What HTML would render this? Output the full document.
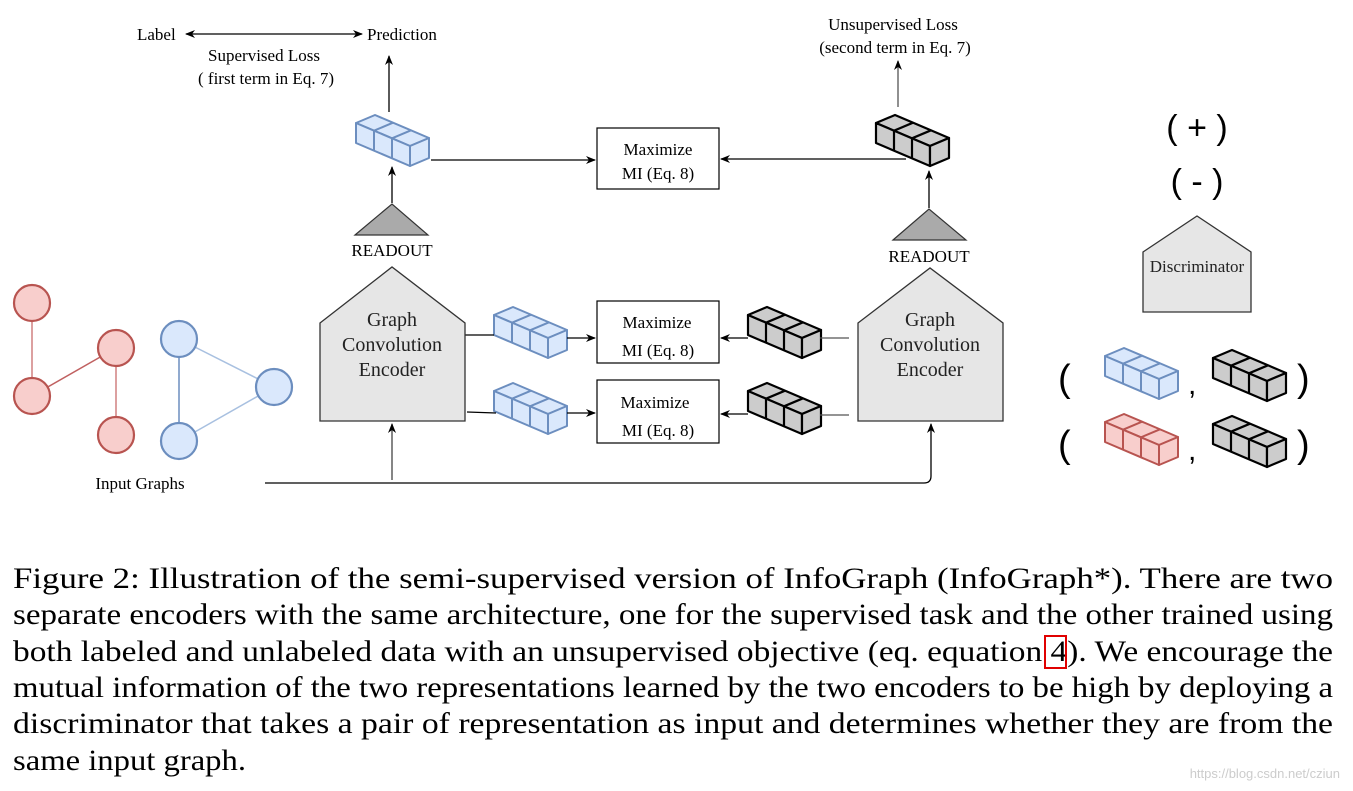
<!DOCTYPE html>
<html><head><meta charset="utf-8"><style>
html,body{margin:0;padding:0;background:#fff;}
svg{display:block;}
text{font-family:"Liberation Serif",serif;}
text.s{font-family:"Liberation Sans",sans-serif;}
</style></head><body>
<svg width="1353" height="791" viewBox="0 0 1353 791" xmlns="http://www.w3.org/2000/svg">
<defs>
<marker id="ah" markerWidth="10" markerHeight="10" refX="9" refY="5" orient="auto" markerUnits="userSpaceOnUse">
<path d="M0,1 L10,5 L0,9 L3,5 z" fill="#000"/>
</marker>
<marker id="ahs" markerWidth="10" markerHeight="10" refX="1" refY="5" orient="auto" markerUnits="userSpaceOnUse">
<path d="M10,1 L0,5 L10,9 L7,5 z" fill="#000"/>
</marker>
<g id="stk">
<polygon points="0,8 19,0 73,23 54,31"/>
<polygon points="0,8 54,31 54,51 0,28"/>
<polygon points="54,31 73,23 73,43 54,51"/>
<line x1="18" y1="15.7" x2="18" y2="35.7"/>
<line x1="36" y1="23.3" x2="36" y2="43.3"/>
<line x1="18" y1="15.7" x2="37" y2="7.7"/>
<line x1="36" y1="23.3" x2="55" y2="15.3"/>
</g>
</defs>

<text x="137" y="40" font-size="17">Label</text>
<text x="367" y="40" font-size="17">Prediction</text>
<line x1="186" y1="34" x2="362" y2="34" stroke="#000" stroke-width="1.3" marker-end="url(#ah)" marker-start="url(#ahs)"/>
<text x="264" y="61" font-size="17" text-anchor="middle">Supervised Loss</text>
<text x="266" y="84" font-size="17" text-anchor="middle">( first term in Eq. 7)</text>
<line x1="389" y1="112" x2="389" y2="56" stroke="#000" stroke-width="1.3" marker-end="url(#ah)"/>

<text x="893" y="30" font-size="17" text-anchor="middle">Unsupervised Loss</text>
<text x="895" y="53" font-size="17" text-anchor="middle">(second term in Eq. 7)</text>
<line x1="898" y1="107" x2="898" y2="61" stroke="#555" stroke-width="1.3" marker-end="url(#ah)"/>

<g fill="#dae8fc" stroke="#6c8ebf" stroke-width="2" stroke-linejoin="round">
<use href="#stk" x="356" y="115"/>
<use href="#stk" x="494" y="307"/>
<use href="#stk" x="494" y="383"/>
<use href="#stk" x="1105" y="348"/>
</g>
<g fill="#f8cecc" stroke="#b85450" stroke-width="2" stroke-linejoin="round">
<use href="#stk" x="1105" y="414"/>
</g>
<g fill="#cccccc" stroke="#000" stroke-width="2.2" stroke-linejoin="round">
<use href="#stk" x="876" y="115"/>
<use href="#stk" x="748" y="307"/>
<use href="#stk" x="748" y="383"/>
<use href="#stk" x="1213" y="350"/>
<use href="#stk" x="1213" y="416"/>
</g>

<g fill="#fff" stroke="#000" stroke-width="1.2">
<rect x="597" y="128" width="122" height="61"/>
<rect x="597" y="301" width="122" height="62"/>
<rect x="597" y="380" width="122" height="63"/>
</g>
<g font-size="17" text-anchor="middle">
<text x="658" y="155">Maximize</text><text x="658" y="179">MI (Eq. 8)</text>
<text x="657" y="328">Maximize</text><text x="658" y="356">MI (Eq. 8)</text>
<text x="655" y="408">Maximize</text><text x="658" y="436">MI (Eq. 8)</text>
</g>

<g stroke="#000" stroke-width="1.3" fill="none">
<line x1="431" y1="160" x2="595" y2="160" marker-end="url(#ah)"/>
<line x1="906" y1="159" x2="721" y2="159" marker-end="url(#ah)"/>
<line x1="465" y1="335" x2="494" y2="335"/>
<line x1="567" y1="338" x2="595" y2="338" marker-end="url(#ah)"/>
<line x1="467" y1="412" x2="496" y2="413"/>
<line x1="567" y1="413" x2="595" y2="413" marker-end="url(#ah)"/>
<line x1="748" y1="338" x2="721" y2="338" marker-end="url(#ah)"/>
<line x1="748" y1="414" x2="721" y2="414" marker-end="url(#ah)"/>
<line x1="849" y1="338" x2="820" y2="338" stroke="#555"/>
<line x1="849" y1="415" x2="820" y2="415" stroke="#555"/>
<line x1="392" y1="203" x2="392" y2="167" marker-end="url(#ah)"/>
<line x1="929" y1="208" x2="929" y2="171" marker-end="url(#ah)"/>
<line x1="392" y1="480" x2="392" y2="424" stroke="#444" marker-end="url(#ah)"/>
<path d="M265,483 L924,483 Q931,483 931,476 L931,424" marker-end="url(#ah)"/>
</g>

<polygon points="355,235 392,204 428,235" fill="#aaaaaa" stroke="#333" stroke-width="1.2"/>
<polygon points="893,240 929,209 966,240" fill="#aaaaaa" stroke="#333" stroke-width="1.2"/>
<text x="392" y="256" font-size="17" text-anchor="middle">READOUT</text>
<text x="929" y="262" font-size="17" text-anchor="middle">READOUT</text>

<polygon points="320,323 392,267 465,323 465,421 320,421" fill="#e6e6e6" stroke="#333" stroke-width="1.3"/>
<polygon points="858,323 930,268 1003,323 1003,421 858,421" fill="#e6e6e6" stroke="#333" stroke-width="1.3"/>
<g font-size="20" text-anchor="middle" fill="#222">
<text x="392" y="326">Graph</text><text x="392" y="351">Convolution</text><text x="392" y="376">Encoder</text>
<text x="930" y="326">Graph</text><text x="930" y="351">Convolution</text><text x="930" y="376">Encoder</text>
</g>

<polygon points="1143,252 1197,216 1251,252 1251,312 1143,312" fill="#e6e6e6" stroke="#333" stroke-width="1.3"/>
<text x="1197" y="272" font-size="17" text-anchor="middle" fill="#222">Discriminator</text>
<text class="s" x="1197" y="139" font-size="34" text-anchor="middle">( + )</text>
<text class="s" x="1197" y="193" font-size="34" text-anchor="middle">( - )</text>
<g font-size="38">
<text class="s" x="1058" y="391">(</text>
<text class="s" x="1297" y="391">)</text>
<text class="s" x="1058" y="457">(</text>
<text class="s" x="1297" y="457">)</text>
<text class="s" x="1188" y="394" font-size="30">,</text>
<text class="s" x="1188" y="460" font-size="30">,</text>
</g>

<g stroke-width="1.5">
<line x1="32" y1="303" x2="32" y2="396" stroke="#d08080"/>
<line x1="32" y1="396" x2="116" y2="348" stroke="#c06060"/>
<line x1="116" y1="348" x2="116" y2="435" stroke="#d08080"/>
<line x1="179" y1="339" x2="179" y2="441" stroke="#6c8ebf"/>
<line x1="179" y1="339" x2="274" y2="387" stroke="#a8c0e0"/>
<line x1="179" y1="441" x2="274" y2="387" stroke="#a8c0e0"/>
</g>
<g fill="#f8cecc" stroke="#b85450" stroke-width="2.2">
<circle cx="32" cy="303" r="18"/><circle cx="32" cy="396" r="18"/>
<circle cx="116" cy="348" r="18"/><circle cx="116" cy="435" r="18"/>
</g>
<g fill="#dae8fc" stroke="#6c8ebf" stroke-width="2.2">
<circle cx="179" cy="339" r="18"/><circle cx="274" cy="387" r="18"/><circle cx="179" cy="441" r="18"/>
</g>
<text x="140" y="489" font-size="17" text-anchor="middle">Input Graphs</text>

<g font-size="30">
<text x="13" y="588" textLength="1320" lengthAdjust="spacingAndGlyphs">Figure 2: Illustration of the semi-supervised version of InfoGraph (InfoGraph*). There are two</text>
<text x="13" y="624" textLength="1320" lengthAdjust="spacingAndGlyphs">separate encoders with the same architecture, one for the supervised task and the other trained using</text>
<text x="13" y="661" textLength="1320" lengthAdjust="spacingAndGlyphs">both labeled and unlabeled data with an unsupervised objective (eq. equation 4). We encourage the</text>
<text x="13" y="697" textLength="1320" lengthAdjust="spacingAndGlyphs">mutual information of the two representations learned by the two encoders to be high by deploying a</text>
<text x="13" y="733" textLength="1320" lengthAdjust="spacingAndGlyphs">discriminator that takes a pair of representation as input and determines whether they are from the</text>
<text x="13" y="770" textLength="233" lengthAdjust="spacingAndGlyphs">same input graph.</text>
</g>
<rect x="1045" y="636" width="21" height="32" fill="none" stroke="#e00000" stroke-width="2"/>
<text class="s" x="1340" y="778" font-size="13" text-anchor="end" fill="#ccc">https://blog.csdn.net/cziun</text>
</svg>
</body></html>
